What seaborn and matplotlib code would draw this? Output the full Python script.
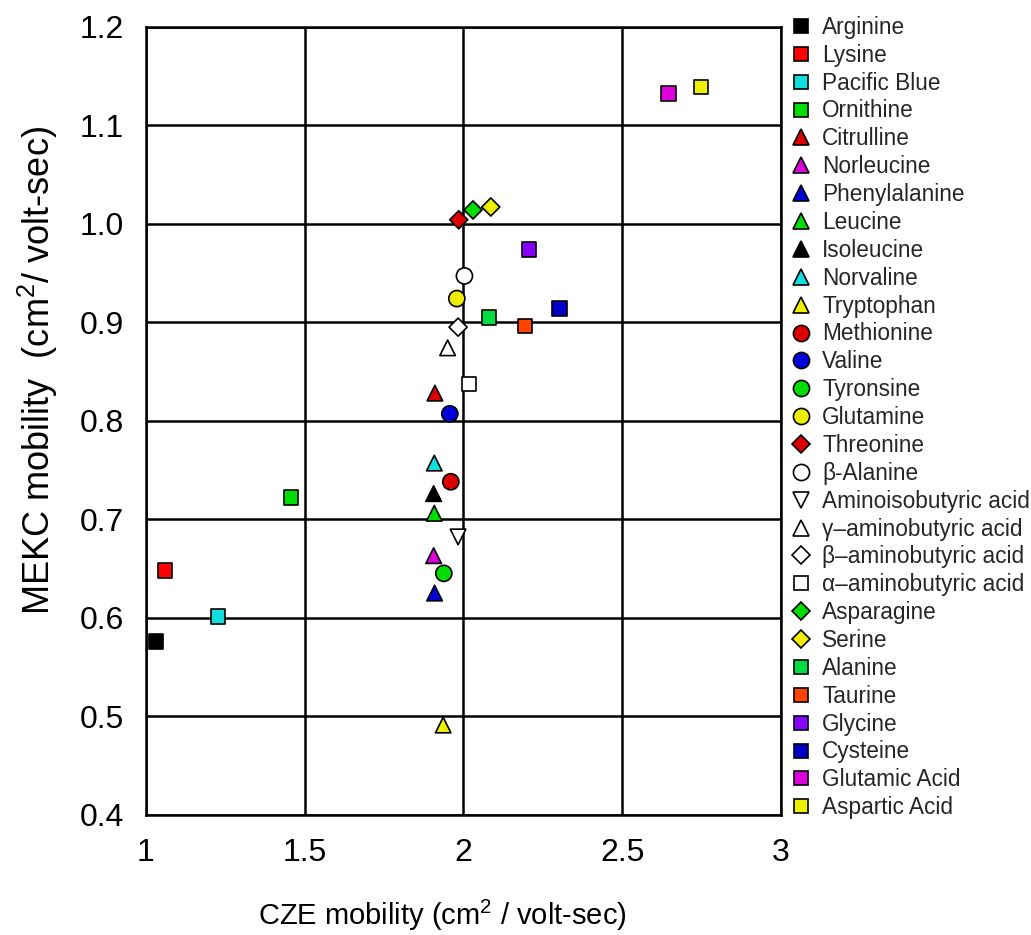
import matplotlib
matplotlib.use("Agg")
import matplotlib.pyplot as plt
from matplotlib.lines import Line2D
from matplotlib.ticker import MultipleLocator, FixedLocator, FixedFormatter
import pandas as pd
import seaborn as sns

# Amino acid mobilities measured by CZE and MEKC (cm^2 / volt-sec)
compounds = [
    "Arginine", "Lysine", "Pacific Blue", "Ornithine", "Citrulline",
    "Norleucine", "Phenylalanine", "Leucine", "Isoleucine", "Norvaline",
    "Tryptophan", "Methionine", "Valine", "Tyronsine", "Glutamine",
    "Threonine", "\u03b2-Alanine", "Aminoisobutyric acid",
    "\u03b3\u2013aminobutyric acid", "\u03b2\u2013aminobutyric acid",
    "\u03b1\u2013aminobutyric acid", "Asparagine", "Serine", "Alanine",
    "Taurine", "Glycine", "Cysteine", "Glutamic Acid", "Aspartic Acid",
]
cze_mobility = [
    1.031, 1.060, 1.226, 1.456, 1.910,
    1.906, 1.909, 1.908, 1.906, 1.908,
    1.936, 1.960, 1.957, 1.938, 1.979,
    1.985, 2.003, 1.983,
    1.950, 1.983,
    2.018, 2.030, 2.086, 2.081,
    2.194, 2.207, 2.303, 2.646, 2.748,
]
mekc_mobility = [
    0.576, 0.648, 0.601, 0.722, 0.828,
    0.663, 0.625, 0.706, 0.726, 0.757,
    0.491, 0.738, 0.807, 0.645, 0.924,
    1.004, 0.947, 0.682,
    0.874, 0.895,
    0.837, 1.014, 1.017, 0.905,
    0.896, 0.974, 0.914, 1.132, 1.139,
]
marker_shapes = [
    "s", "s", "s", "s", "^",
    "^", "^", "^", "^", "^",
    "^", "o", "o", "o", "o",
    "D", "o", "v",
    "^", "D",
    "s", "D", "D", "s",
    "s", "s", "s", "s", "s",
]
fill_colors = [
    "#000000", "#ff0000", "#11dddd", "#00dd00", "#dd0000",
    "#dd00dd", "#0000dd", "#00dd00", "#000000", "#11dddd",
    "#eeee00", "#dd0000", "#0000dd", "#00dd00", "#eeee00",
    "#dd0000", "#ffffff", "#ffffff",
    "#ffffff", "#ffffff",
    "#ffffff", "#00dd00", "#eeee00", "#00dd44",
    "#ff4400", "#8800ff", "#0000cc", "#dd00dd", "#eeee00",
]

x_ticks = [1, 1.5, 2, 2.5, 3]
x_tick_labels = ["1", "1.5", "2", "2.5", "3"]
y_ticks = [0.4, 0.5, 0.6, 0.7, 0.8, 0.9, 1.0, 1.1, 1.2]
y_tick_labels = ["0.4", "0.5", "0.6", "0.7", "0.8", "0.9", "1.0", "1.1", "1.2"]

# marker area (pt^2) for each shape
shape_area = {"s": 108, "o": 135, "^": 125, "v": 125, "D": 85}

sns.set_style("white")
plt.rcParams["font.family"] = ["Liberation Sans", "DejaVu Sans"]
plt.rcParams["mathtext.fontset"] = "custom"
plt.rcParams["mathtext.rm"] = "Liberation Sans"
plt.rcParams["mathtext.it"] = "Liberation Sans:italic"
plt.rcParams["mathtext.bf"] = "Liberation Sans:bold"

df = pd.DataFrame({
    "compound": compounds,
    "cze": cze_mobility,
    "mekc": mekc_mobility,
    "shape": marker_shapes,
    "fill": fill_colors,
})
palette = dict(zip(df["compound"], df["fill"]))
markers = dict(zip(df["compound"], df["shape"]))
sizes = {c: shape_area[m] for c, m in markers.items()}

fig = plt.figure(figsize=(10.31, 9.35), dpi=100)
ax = fig.add_axes([0.1416, 0.1287, 0.6159, 0.8427])

# earlier compounds are drawn last so they sit on top
sns.scatterplot(
    data=df.iloc[::-1], x="cze", y="mekc",
    hue="compound", style="compound", size="compound",
    palette=palette, markers=markers, sizes=sizes,
    edgecolor="black", linewidth=1.2, legend=False, ax=ax, zorder=3,
)

ax.set_xlim(1, 3)
ax.set_ylim(0.4, 1.2)
ax.xaxis.set_major_locator(FixedLocator(x_ticks))
ax.xaxis.set_major_formatter(FixedFormatter(x_tick_labels))
ax.yaxis.set_major_locator(FixedLocator(y_ticks))
ax.yaxis.set_major_formatter(FixedFormatter(y_tick_labels))
ax.xaxis.set_minor_locator(MultipleLocator(0.1))
ax.yaxis.set_minor_locator(MultipleLocator(0.02))

ax.grid(True, which="major", color="black", linewidth=1.8)
ax.set_axisbelow(True)
for sp in ax.spines.values():
    sp.set_color("black")
    sp.set_linewidth(1.8)

ax.tick_params(axis="both", which="major", direction="out", length=8,
               width=1.5, color="black", labelsize=23, labelcolor="black")
ax.tick_params(axis="x", which="major", pad=9)
ax.tick_params(axis="y", which="major", pad=8)
ax.tick_params(axis="both", which="minor", direction="out", length=5,
               width=1.3, color="black")

ax.set_xlabel("CZE mobility (cm$^{2}$ / volt-sec)", fontsize=21, color="black")
ax.set_ylabel("MEKC mobility  (cm$^{2}$/ volt-sec)", fontsize=26, color="black")
ax.xaxis.set_label_coords(0.466, -0.105)
ax.yaxis.set_label_coords(-0.135, 0.564)

handles = [
    Line2D([], [], linestyle="none", marker=m, markersize=shape_area[m] ** 0.5,
           markerfacecolor=f, markeredgecolor="black", markeredgewidth=1.2)
    for m, f in zip(marker_shapes, fill_colors)
]
fig.legend(handles, compounds, loc="upper left",
           bbox_to_anchor=(0.7662, 0.983), bbox_transform=fig.transFigure,
           frameon=False, fontsize=16.3, handlelength=1.0, handletextpad=0.42,
           labelspacing=0.215, borderpad=0, borderaxespad=0)

fig.savefig("out.png", dpi=100)
